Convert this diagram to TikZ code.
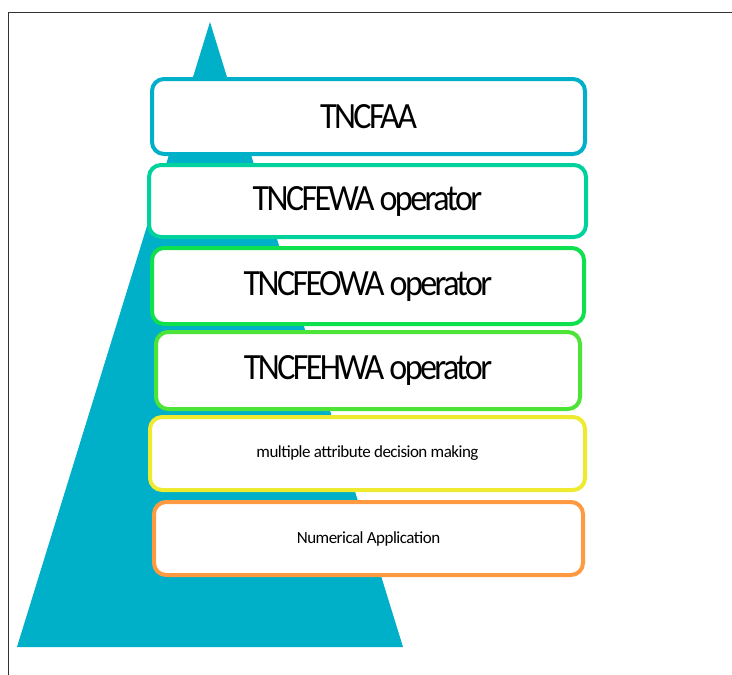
\documentclass[tikz,border=0pt]{standalone}
\usepackage{fontspec}
\newfontfamily\bigf[FakeStretch=0.92,LetterSpace=-7]{Carlito}
\newfontfamily\smallf[LetterSpace=-3]{Carlito}
\definecolor{tri}{HTML}{00AFC8}
\definecolor{cA}{HTML}{00AFC8}
\definecolor{cB}{HTML}{00D29C}
\definecolor{cC}{HTML}{0FE04E}
\definecolor{cD}{HTML}{4CE436}
\definecolor{cE}{HTML}{EEEA30}
\definecolor{cF}{HTML}{FF9A40}
\definecolor{frame}{HTML}{333333}
\newcommand{\lowbig}[1]{\raisebox{-2pt}{#1}}
\newcommand{\lowsmall}[1]{\raisebox{-3pt}{#1}}
\tikzset{
  box/.style={draw=#1, line width=4pt, fill=white, rounded corners=12pt, inner sep=0pt, text=black},
  bigtxt/.style={font=\bigf\fontsize{37}{40}\selectfont},
  smalltxt/.style={font=\smallf\fontsize{17}{20}\selectfont},
}
\begin{document}
\begin{tikzpicture}[x=1pt,y=-1pt]
\useasboundingbox (0,0) rectangle (732,675);
\draw[frame, line width=1pt] (8,675) -- (8,12) -- (732,12);
\fill[tri] (17,647) -- (403,647) -- (210,22) -- cycle;
\node[box=cA, bigtxt, minimum width=433, minimum height=75] (b1) at (368.5,116.5) {\lowbig{TNCFAA}};
\node[box=cB, bigtxt, minimum width=437, minimum height=72] (b2) at (367.5,201) {\lowbig{TNCFEWA operator}};
\node[box=cC, bigtxt, minimum width=432, minimum height=76] (b3) at (368,286) {\lowbig{TNCFEOWA operator}};
\node[box=cD, bigtxt, minimum width=424, minimum height=77] (b4) at (368,370.5) {\lowbig{TNCFEHWA operator}};
\node[box=cE, smalltxt, minimum width=435, minimum height=73] (b5) at (367.5,453.5) {\lowsmall{multiple attribute decision making}};
\node[box=cF, smalltxt, minimum width=429, minimum height=73] (b6) at (368.5,538.5) {\lowsmall{Numerical Application}};
\end{tikzpicture}
\end{document}
